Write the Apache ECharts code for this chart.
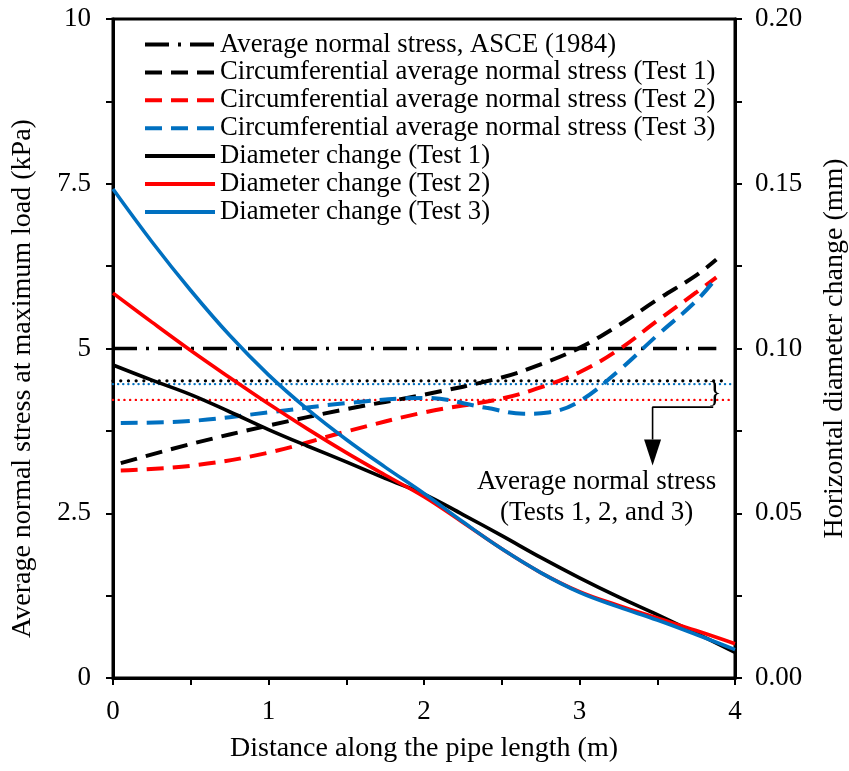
<!DOCTYPE html>
<html><head><meta charset="utf-8">
<script src="https://cdn.jsdelivr.net/npm/echarts@6/dist/echarts.min.js"></script>
<style>html,body{margin:0;padding:0;background:#fff}#c{width:849px;height:771px}</style>
</head><body><div id="c"></div>
<script>
// ---- data ----
const xTicks = [0, 1, 2, 3, 4];
const leftTickLabels = ['0', '2.5', '5', '7.5', '10'];
const rightTickLabels = ['0.00', '0.05', '0.10', '0.15', '0.20'];

// Average normal stress, ASCE (1984) (kPa)
const asceX = [0, 3.88];
const asceY = [5.0, 5.0];

// Circumferential average normal stress (kPa)
const circT1X = [0.05, 0.5, 1, 1.5, 2, 2.5, 2.75, 3, 3.25, 3.5, 3.75, 3.88];
const circT1Y = [3.26, 3.55, 3.83, 4.08, 4.30, 4.56, 4.76, 5.01, 5.35, 5.74, 6.11, 6.35];
const circT2X = [0.05, 0.5, 1, 1.5, 2, 2.5, 2.75, 3, 3.25, 3.5, 3.75, 3.88];
const circT2Y = [3.15, 3.22, 3.42, 3.74, 4.03, 4.24, 4.41, 4.64, 4.98, 5.42, 5.85, 6.08];
const circT3X = [0.05, 0.5, 1, 1.5, 2, 2.4, 2.64, 2.8, 3, 3.25, 3.5, 3.75, 3.88];
const circT3Y = [3.87, 3.90, 4.03, 4.17, 4.25, 4.10, 4.01, 4.03, 4.20, 4.66, 5.20, 5.72, 6.07];

// Horizontal diameter change (mm)
const diaX = [0, 0.25, 0.5, 0.75, 1, 1.25, 1.5, 1.75, 2, 2.25, 2.5, 2.75, 3, 3.25, 3.5, 3.75, 4];
const diaT1Y = [0.095, 0.0904, 0.086, 0.0808, 0.0754, 0.0704, 0.0656, 0.0606, 0.0558, 0.0496, 0.0432, 0.0366, 0.0304, 0.0246, 0.0192, 0.0136, 0.0078];
const diaT2Y = [0.1168, 0.108, 0.0994, 0.0912, 0.0832, 0.0756, 0.0684, 0.0616, 0.055, 0.0472, 0.0392, 0.032, 0.0262, 0.022, 0.0182, 0.0144, 0.0104];
const diaT3Y = [0.1484, 0.1324, 0.1176, 0.104, 0.092, 0.0816, 0.0724, 0.064, 0.056, 0.0474, 0.0392, 0.032, 0.026, 0.0216, 0.0176, 0.0132, 0.0086];

// Average normal stress of each test (kPa), dotted lines
const avgT1X = [0, 3.95];
const avgT1Y = [4.51, 4.51];
const avgT2X = [0, 3.97];
const avgT2Y = [4.22, 4.22];
const avgT3X = [0, 4];
const avgT3Y = [4.46, 4.46];

// annotation (data coordinates)
const leaderX = [3.86, 3.47, 3.47];
const leaderY = [4.11, 4.11, 3.62];
const arrowHead = [3.47, 3.42];
const bracePos = [3.87, 4.33];
const noteText = ['Average normal stress', '(Tests 1, 2, and 3)'];
const notePos = [3.11, 2.74];

const names = [
  'Average normal stress, ASCE (1984)',
  'Circumferential average normal stress (Test 1)',
  'Circumferential average normal stress (Test 2)',
  'Circumferential average normal stress (Test 3)',
  'Diameter change (Test 1)',
  'Diameter change (Test 2)',
  'Diameter change (Test 3)'
];

const BLACK = '#000000', RED = '#FF0000', BLUE = '#0070C0';
const FONT = '"Liberation Serif", "Times New Roman", serif';
const zip = (xs, ys) => xs.map((x, i) => [x, ys[i]]);

function line(name, xs, ys, color, type, width, yIdx, smooth) {
  return {
    name, type: 'line', yAxisIndex: yIdx, data: zip(xs, ys),
    symbol: 'none', smooth: smooth, silent: true,
    lineStyle: { color, type, width, cap: 'butt' },
    itemStyle: { color }, z: 3
  };
}

const near = (v, step) => Math.abs(v / step - Math.round(v / step)) < 1e-6;

const chart = echarts.init(document.getElementById('c'), null, { renderer: 'canvas' });
const option = {
  animation: false,
  backgroundColor: '#fff',
  textStyle: { fontFamily: FONT, color: '#000' },
  grid: { left: 113, right: 114, top: 19, bottom: 93, show: true, borderColor: '#000', borderWidth: 3, outerBoundsMode: 'none', containLabel: false },
  legend: {
    data: names, orient: 'vertical', left: 138, top: 26,
    itemWidth: 70, itemHeight: 14, itemGap: 0.9,
    itemStyle: { opacity: 0 },
    lineStyle: { width: 4 },
    textStyle: { fontFamily: FONT, fontSize: 26.7, color: '#000', lineHeight: 26 },
    selectedMode: false
  },
  xAxis: {
    type: 'value', min: 0, max: 4, interval: 0.5,
    name: 'Distance along the pipe length (m)', nameLocation: 'middle', nameGap: 57,
    nameTextStyle: { fontFamily: FONT, fontSize: 28, color: '#000' },
    axisLine: { show: true, onZero: false, lineStyle: { color: '#000', width: 3 } },
    axisTick: { show: true, inside: false, length: 7, lineStyle: { color: '#000', width: 2 } },
    splitLine: { show: false },
    axisLabel: { margin: 20, fontFamily: FONT, fontSize: 27, color: '#000',
      formatter: v => { const i = xTicks.indexOf(v); return i >= 0 ? String(xTicks[i]) : ''; } }
  },
  yAxis: [{
    type: 'value', min: 0, max: 10, interval: 1.25, position: 'left',
    name: 'Average normal stress at maximum load (kPa)', nameLocation: 'middle', nameGap: 76,
    nameTextStyle: { fontFamily: FONT, fontSize: 28, color: '#000', padding: [0, 60, 0, 0] },
    axisLine: { show: true, onZero: false, lineStyle: { color: '#000', width: 3 } },
    axisTick: { show: true, inside: false, length: 7, lineStyle: { color: '#000', width: 2 } },
    splitLine: { show: false },
    axisLabel: { margin: 22, fontFamily: FONT, fontSize: 27, color: '#000',
      formatter: v => near(v, 2.5) ? leftTickLabels[Math.round(v / 2.5)] : '' }
  }, {
    type: 'value', min: 0, max: 0.2, interval: 0.025, position: 'right',
    name: 'Horizontal diameter change (mm)', nameLocation: 'middle', nameGap: 86,
    nameTextStyle: { fontFamily: FONT, fontSize: 28, color: '#000' },
    axisLine: { show: true, onZero: false, lineStyle: { color: '#000', width: 3 } },
    axisTick: { show: true, inside: false, length: 7, lineStyle: { color: '#000', width: 2 } },
    splitLine: { show: false },
    axisLabel: { margin: 20, fontFamily: FONT, fontSize: 27, color: '#000',
      formatter: v => near(v, 0.05) ? rightTickLabels[Math.round(v / 0.05)] : '' }
  }],
  series: [
    line(names[0], asceX, asceY, BLACK, [24, 9, 3, 9], 3.6, 0, false),
    line(names[1], circT1X, circT1Y, BLACK, [17, 9], 4, 0, 0.4),
    line(names[2], circT2X, circT2Y, RED, [17, 9], 4, 0, 0.4),
    line(names[3], circT3X, circT3Y, BLUE, [17, 9], 4, 0, 0.4),
    line(names[4], diaX, diaT1Y, BLACK, 'solid', 3.6, 1, 0.4),
    line(names[5], diaX, diaT2Y, RED, 'solid', 3.6, 1, 0.4),
    line(names[6], diaX, diaT3Y, BLUE, 'solid', 3.6, 1, 0.4),
    { name: 'avg1', type: 'line', data: zip(avgT1X, avgT1Y), symbol: 'none', silent: true, z: 2,
      lineStyle: { color: BLACK, width: 3.2, type: [0.1, 7.6], cap: 'round' } },
    { name: 'avg3', type: 'line', data: zip(avgT3X, avgT3Y), symbol: 'none', silent: true, z: 2,
      lineStyle: { color: BLUE, width: 2.4, type: [0.1, 5], cap: 'round' } },
    { name: 'avg2', type: 'line', data: zip(avgT2X, avgT2Y), symbol: 'none', silent: true, z: 2,
      lineStyle: { color: RED, width: 2.4, type: [0.1, 5.6], cap: 'round' } },
    { name: 'leader', type: 'line', data: zip(leaderX, leaderY), symbol: 'none', silent: true, z: 4,
      lineStyle: { color: BLACK, width: 1.6, type: 'solid' } },
    { name: 'arrow', type: 'scatter', data: [arrowHead], symbol: 'triangle', symbolRotate: 180,
      symbolSize: [17, 26], itemStyle: { color: BLACK, opacity: 1 }, silent: true, z: 4 },
    { name: 'brace', type: 'scatter', data: [bracePos], symbolSize: 0, silent: true, z: 4,
      itemStyle: { opacity: 1 },
      label: { show: true, position: 'inside', formatter: '}', fontFamily: FONT, fontSize: 30, color: '#000' } },
    { name: 'note', type: 'scatter', data: [notePos], symbolSize: 0, silent: true, z: 4,
      itemStyle: { opacity: 1 },
      label: { show: true, position: 'inside', formatter: noteText.join('\n'), fontFamily: FONT,
        fontSize: 27, lineHeight: 31, color: '#000', align: 'center' } }
  ]
};
chart.setOption(option);
</script></body></html>
